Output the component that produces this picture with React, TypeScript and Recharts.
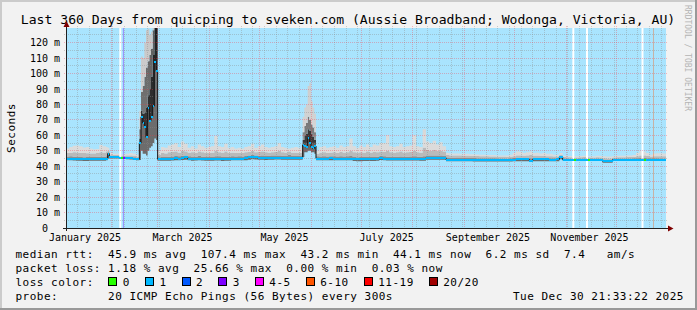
import React from "react";
import {
  ComposedChart,
  Area,
  Line,
  Scatter,
  XAxis,
  YAxis,
  CartesianGrid,
  ReferenceLine,
  ReferenceArea,
} from "recharts";

// ---------------- data (days since Jan 4 2025 21:33, values in ms) ----------------
const days = [
  0, 2, 4, 6, 8, 10, 12, 14, 16, 18, 20, 22, 24, 25, 26, 28, 30, 32, 34, 36, 38, 40, 42,
  44, 45, 46, 47, 48, 49, 50, 51, 52, 53, 54,
  55, 57, 59, 61, 63, 65, 67, 69, 71, 73,
  75, 77, 79, 81, 83, 85, 87, 89, 91, 93,
  95, 97, 99, 101, 103, 105, 107, 109, 111, 113,
  115, 117, 119, 121, 123, 125, 127, 129, 131, 133,
  135, 137, 139, 141,
  142, 143, 144, 145, 146, 147, 148, 149,
  150, 152, 154, 156, 158, 160, 162, 164, 166, 168,
  170, 172, 174, 176, 178, 180, 182, 184, 186, 188,
  190, 192, 194, 196, 198, 200, 202, 204, 206, 208,
  210, 212, 214, 216, 218, 220, 222, 224, 226, 228,
  230, 232, 234, 236, 238, 240, 242, 244, 246, 248,
  250, 252, 254, 256, 258, 260, 262, 264, 266, 268,
  270, 272, 274, 276, 278, 280, 282, 284, 286, 288,
  290, 292, 294, 296, 298, 300, 302, 304, 306, 308,
  310, 312, 314, 316, 318, 320, 322, 324, 326, 328,
  330, 332, 334, 336, 338, 340, 342, 344, 346, 348,
  350, 352, 354, 356, 358, 360,
];

const smokeLow = [
  43.8, 43.8, 43.7, 43.5, 43.5, 43.4, 43.4, 43.5, 43.5, 43.6, 43.6, 43.6, 43.8, 45.0, 45.0, 45.0, 45.0, 44.8, 44.6, 44.5, 44.3, 44.2, 43.8,
  44.0, 50.0, 48.0, 48.0, 47.0, 50.0, 52.0, 53.0, 55.0, 58.0, 57.0,
  43.5, 43.6, 43.5, 43.6, 43.7, 43.9, 43.8, 44.0, 44.2, 43.9,
  43.6, 43.7, 43.8, 43.7, 43.5, 43.5, 43.5, 43.7, 43.7, 43.4,
  43.5, 43.6, 43.8, 43.8, 43.8, 43.8, 43.9, 44.2, 44.5, 44.3,
  44.2, 44.2, 44.1, 44.2, 44.2, 44.3, 44.3, 44.2, 44.2, 44.2,
  44.2, 44.2, 44.2, 44.2,
  46.0, 49.0, 49.0, 50.0, 50.0, 49.0, 49.0, 48.0,
  43.8, 43.8, 43.8, 43.8, 43.9, 43.8, 43.8, 43.8, 43.8, 43.8,
  43.8, 43.4, 43.3, 43.3, 43.4, 43.4, 43.4, 43.4, 43.5, 44.0,
  43.8, 43.7, 43.7, 43.7, 43.7, 43.7, 43.7, 43.7, 43.7, 43.7,
  43.7, 43.6, 43.6, 44.2, 44.2, 44.2, 44.2, 44.2, 44.2, 43.3,
  43.2, 43.2, 43.2, 43.2, 43.2, 43.2, 43.2, 43.1, 43.1, 43.1,
  43.1, 43.1, 43.1, 43.1, 43.1, 43.0, 43.0, 43.0, 43.0, 43.2,
  43.3, 43.3, 43.3, 43.3, 42.8, 43.3, 43.3, 43.3, 43.3, 43.3,
  43.3, 43.3, 43.3, 44.5, 43.5, 43.5, 43.5, 43.5, 43.5, 43.5,
  43.5, 43.5, 43.5, 43.5, 43.5, 43.5, 42.2, 42.2, 42.2, 43.5,
  43.5, 43.5, 43.5, 43.5, 43.5, 43.5, 43.5, 43.5, 43.5, 43.5,
  43.5, 43.5, 43.5, 43.4, 43.4, 43.4,
];

const median = [
  45.0, 45.0, 44.8, 44.6, 44.5, 44.4, 44.4, 44.5, 44.5, 44.6, 44.6, 44.7, 45.0, 48.2, 46.0, 45.8, 45.8, 45.5, 45.5, 45.3, 45.2, 45.0, 44.6,
  55.0, 72.0, 68.0, 65.6, 58.7, 78.0, 69.5, 72.0, 79.0, 107.4, 101.9,
  44.5, 44.6, 44.5, 44.6, 44.8, 45.2, 45.0, 45.3, 46.0, 45.0,
  44.6, 44.8, 45.0, 44.8, 44.6, 44.5, 44.6, 45.0, 45.0, 44.5,
  44.6, 44.8, 45.0, 45.0, 45.0, 45.0, 45.2, 45.8, 46.2, 45.8,
  45.5, 45.5, 45.4, 45.5, 45.6, 45.6, 45.6, 45.5, 45.5, 45.4,
  45.4, 45.4, 45.4, 45.4,
  53.8, 53.1, 52.3, 58.1, 55.3, 52.3, 51.5, 53.1,
  45.0, 45.0, 45.0, 45.0, 45.1, 45.0, 45.0, 45.0, 45.0, 45.0,
  45.0, 44.5, 44.4, 44.4, 44.5, 44.5, 44.5, 44.5, 44.6, 45.5,
  45.0, 44.8, 44.8, 44.8, 44.8, 44.8, 44.8, 44.8, 44.8, 44.8,
  44.8, 44.7, 44.7, 45.5, 45.5, 45.5, 45.5, 45.5, 45.5, 44.3,
  44.2, 44.2, 44.2, 44.2, 44.2, 44.2, 44.2, 44.1, 44.1, 44.1,
  44.1, 44.1, 44.1, 44.1, 44.1, 44.0, 44.0, 44.0, 44.3, 44.3,
  44.4, 44.4, 44.4, 44.4, 43.6, 44.4, 44.4, 44.4, 44.4, 44.4,
  44.3, 44.3, 44.4, 46.0, 44.3, 44.2, 44.2, 44.2, 44.2, 44.2,
  44.2, 44.2, 44.2, 44.2, 44.2, 44.2, 43.2, 43.2, 43.2, 44.3,
  44.3, 44.3, 44.3, 44.3, 44.3, 44.3, 44.3, 44.3, 44.3, 44.3,
  44.2, 44.2, 44.2, 44.1, 44.1, 44.1,
];

const smokeDark = [
  46.3, 46.4, 46.2, 46.0, 46.0, 45.8, 45.9, 46.0, 45.9, 46.1, 46.2, 46.2, 46.5, 49.0, 46.8, 46.6, 46.6, 46.3, 46.2, 46.1, 46.0, 45.8, 45.4,
  58.0, 76.0, 74.0, 75.0, 78.0, 86.0, 90.0, 98.0, 112.0, 140.0, 140.0,
  45.8, 46.0, 45.9, 46.1, 46.3, 46.6, 46.4, 46.8, 47.0, 46.4,
  46.0, 46.2, 46.8, 46.2, 46.0, 45.9, 46.0, 46.5, 46.4, 45.9,
  46.0, 46.2, 46.4, 46.3, 46.4, 46.3, 46.6, 47.0, 47.4, 47.0,
  46.8, 46.9, 46.7, 46.8, 46.9, 47.0, 47.0, 46.8, 46.8, 47.5,
  46.7, 46.7, 46.7, 46.8,
  57.0, 60.0, 61.0, 64.0, 63.0, 61.0, 59.0, 57.0,
  46.4, 46.3, 46.4, 46.3, 46.4, 46.4, 46.3, 46.5, 46.3, 46.4,
  46.6, 46.0, 45.8, 45.9, 45.9, 46.0, 45.9, 46.0, 46.1, 46.8,
  46.4, 46.2, 46.2, 46.1, 46.2, 46.3, 46.1, 46.2, 46.3, 46.4,
  46.2, 46.1, 46.5, 47.0, 46.9, 47.0, 46.9, 47.0, 46.8, 45.6,
  45.5, 45.5, 45.4, 45.4, 45.4, 45.4, 45.3, 45.3, 45.2, 45.2,
  45.2, 45.1, 45.1, 45.1, 45.0, 45.0, 45.0, 44.9, 45.2, 45.3,
  45.5, 45.5, 45.4, 45.5, 45.2, 45.4, 45.4, 45.3, 45.3, 45.3,
  45.2, 45.2, 45.3, 46.8, 45.0, 44.9, 44.9, 44.9, 44.9, 44.9,
  45.0, 44.9, 44.9, 44.9, 45.0, 44.9, 44.0, 44.0, 44.0, 45.0,
  45.0, 45.0, 45.0, 45.0, 45.0, 45.1, 45.2, 45.3, 45.3, 45.2,
  45.1, 45.1, 45.1, 45.0, 45.0, 45.0,
];

const smokeMid = [
  48.5, 48.6, 49.0, 48.8, 48.5, 48.6, 48.4, 48.2, 48.3, 48.5, 49.0, 48.8, 49.5, 50.0, 47.5, 47.2, 47.3, 46.8, 46.8, 47.0, 47.0, 46.8, 46.2,
  64.0, 88.0, 92.0, 98.0, 104.0, 108.0, 112.0, 116.0, 128.0, 140.0, 140.0,
  47.5, 48.5, 48.2, 49.0, 49.2, 49.5, 48.8, 50.0, 49.5, 48.8,
  49.0, 48.5, 49.5, 49.0, 48.6, 48.5, 48.8, 50.0, 49.0, 48.8,
  49.5, 48.6, 48.8, 48.5, 48.6, 48.5, 49.0, 49.2, 49.8, 49.0,
  49.2, 49.5, 49.0, 48.8, 49.0, 49.2, 50.0, 49.0, 48.8, 49.5,
  48.8, 48.8, 48.6, 48.8,
  62.0, 66.0, 68.0, 72.0, 70.0, 67.0, 65.0, 62.0,
  48.0, 48.8, 49.0, 48.6, 48.8, 49.0, 48.6, 49.2, 48.8, 49.0,
  50.0, 49.0, 48.8, 49.0, 48.8, 49.5, 48.8, 49.2, 49.0, 49.5,
  49.2, 50.0, 49.0, 48.8, 49.0, 49.5, 48.8, 49.0, 49.2, 50.0,
  49.0, 48.8, 52.0, 50.5, 50.0, 50.5, 49.8, 50.0, 49.5, 47.2,
  47.0, 47.0, 47.0, 46.9, 46.8, 46.8, 46.7, 46.7, 46.6, 46.5,
  46.5, 46.4, 46.3, 46.3, 46.2, 46.2, 46.1, 46.0, 46.2, 46.5,
  47.0, 47.0, 46.8, 47.0, 47.2, 46.8, 46.8, 46.6, 46.6, 46.5,
  46.5, 46.3, 46.3, 47.3, 46.0, 45.8, 45.8, 45.7, 45.7, 45.8,
  45.9, 45.8, 45.7, 45.7, 45.8, 45.7, 45.2, 45.0, 45.0, 45.7,
  45.8, 45.8, 45.8, 45.9, 45.9, 46.0, 46.5, 47.0, 47.0, 46.6,
  46.2, 46.5, 46.5, 46.5, 46.5, 46.5,
];

const smokeTop = [
  51.5, 52.5, 53.3, 53.5, 53.0, 52.2, 52.5, 51.5, 51.0, 51.2, 53.7, 53.0, 52.5, 52.0, 48.5, 48.0, 48.2, 47.5, 47.8, 48.0, 48.5, 48.0, 47.5,
  76.0, 111.0, 110.0, 120.0, 128.0, 129.0, 125.0, 127.0, 140.0, 140.0, 140.0,
  50.0, 52.5, 52.0, 53.5, 54.0, 55.0, 52.5, 56.0, 54.5, 52.0,
  53.0, 51.5, 54.0, 53.0, 52.0, 52.5, 53.0, 59.5, 53.0, 52.5,
  54.5, 52.0, 52.5, 51.5, 52.0, 51.5, 52.5, 53.0, 54.5, 52.0,
  53.0, 54.0, 52.5, 52.0, 52.5, 53.0, 55.0, 52.5, 52.0, 51.5,
  52.0, 52.5, 52.0, 52.5,
  72.0, 78.0, 80.0, 92.0, 94.0, 82.0, 78.0, 74.0,
  50.0, 52.5, 53.0, 52.0, 52.5, 53.0, 52.0, 53.5, 52.5, 53.0,
  58.0, 53.0, 52.0, 53.5, 52.5, 54.0, 52.5, 54.0, 53.5, 55.0,
  55.0, 60.0, 53.0, 52.5, 53.0, 54.5, 52.5, 53.0, 53.5, 60.0,
  53.0, 52.5, 64.0, 56.0, 55.0, 56.5, 54.0, 55.5, 53.0, 48.5,
  48.3, 48.2, 48.2, 48.0, 48.0, 48.0, 47.8, 47.8, 47.6, 47.5,
  47.5, 47.3, 47.2, 47.2, 47.0, 47.0, 47.0, 46.9, 47.5, 48.5,
  49.5, 49.3, 48.5, 49.0, 49.5, 48.5, 48.8, 48.2, 48.5, 48.0,
  48.0, 47.5, 47.5, 48.5, 46.8, 46.6, 46.6, 46.5, 46.5, 46.6,
  46.8, 46.6, 46.5, 46.5, 46.8, 46.6, 46.5, 46.3, 46.3, 46.6,
  46.8, 46.8, 46.8, 47.0, 47.0, 47.3, 48.5, 49.8, 49.5, 48.5,
  47.5, 48.2, 48.4, 48.4, 48.3, 48.3,
];

// unknown-data gaps (white), loss-colour marks and vertical loss lines
const gapStartDays = [32.0, 303.8, 312.0, 345.3];
const gapEndDays = [33.2, 305.0, 313.2, 346.5];
const lossMarkDays = [33.2, 34.0, 305.0, 313.2, 346.5];
const lossMarkValues = [45.5, 45.5, 44.2, 44.2, 44.3];
const lossMarkColors = ["#26ff00", "#7e00ff", "#26ff00", "#26ff00", "#26ff00"];
const lossLineDays = [34.4, 352.4];
const lossLineColors = ["#7e00ff", "#ff5500"];

// axes
const xLabelDays = [11.4, 69.9, 131.1, 192.4, 253.2, 314.1];
const xLabels = ["January 2025", "March 2025", "May 2025", "July 2025", "September 2025", "November 2025"];
const monthStartDays = [27.1, 55.1, 86.1, 116.1, 147.1, 177.1, 208.1, 239.1, 269.1, 300.1, 330.1];
const weekStartDays = Array.from({ length: 52 }, (_, k) => 0.1 + 7 * k).filter(
  (d) => !monthStartDays.some((m) => Math.abs(m - d) < 0.5)
);
const yLabelValues = [0, 10, 20, 30, 40, 50, 60, 70, 80, 90, 100, 110, 120];
const yMinorValues = [5, 15, 25, 35, 45, 55, 65, 75, 85, 95, 105, 115, 125];

// legend
const lossLabels = ["0", "1", "2", "3", "4-5", "6-10", "11-19", "20/20"];
const lossColors = ["#26ff00", "#00b8ff", "#0059ff", "#7e00ff", "#ff00ff", "#ff5500", "#ff0000", "#a00000"];

// ---------------- layout / style ----------------
const W = 697;
const H = 310;
const PLOT_LEFT = 66;
const PLOT_RIGHT = 666;
const PLOT_TOP = 28;
const PLOT_BOTTOM = 228;
const X_MAX = 360;
const Y_MAX = 129.5;
const PX_PER_DAY = (PLOT_RIGHT - PLOT_LEFT) / X_MAX;
const MONO = "'DejaVu Sans Mono', monospace";
const PLOT_BG = "#a9e4fe";
const MEDIAN_COLOR = "#00b8ff";
const LEG_FS = 11;
const LEG_LS = 0.5;
const LEG_ADV = LEG_FS * 0.602 + LEG_LS;
// gradient offset for a value on the y scale (style only: smoke gets darker high up)
const off = (v: number) => 1 - v / Y_MAX;

const rows = days.map((day, i) => ({
  day,
  lo: smokeLow[i],
  med: median[i],
  dk: smokeDark[i],
  mid: smokeMid[i],
  top: smokeTop[i],
  span: i < days.length - 1 ? days[i + 1] - day : 0,
}));

const lossMarks = lossMarkDays.map((day, i) => ({
  day,
  med: lossMarkValues[i],
  color: lossMarkColors[i],
  span: 1.2,
}));

const gridShape = (props: any) => {
  const { x1, y1, x2, y2, stroke, strokeOpacity } = props;
  if ([x1, y1, x2, y2].some((v) => v == null || isNaN(v))) return null;
  const vertical = Math.abs(x1 - x2) < 0.01;
  if (vertical) {
    const x = Math.floor(x1) + 0.5;
    return (
      <line x1={x} x2={x} y1={Math.min(y1, y2) - 2} y2={Math.max(y1, y2) + 2} stroke={stroke}
        strokeOpacity={strokeOpacity} strokeDasharray="1 1" shapeRendering="crispEdges" />
    );
  }
  const y = Math.floor(y1) + 0.5;
  return (
    <line x1={Math.min(x1, x2) - 2} x2={Math.max(x1, x2) + 2} y1={y} y2={y} stroke={stroke}
      strokeOpacity={strokeOpacity} strokeDasharray="1 1" shapeRendering="crispEdges" />
  );
};

const lossLineShape = (props: any) => {
  const { x1, y1, x2, y2, stroke, strokeOpacity } = props;
  if ([x1, y1, x2, y2].some((v) => v == null || isNaN(v))) return null;
  const x = Math.floor(x1) + 0.5;
  return <line x1={x} x2={x} y1={y1} y2={y2} stroke={stroke} strokeOpacity={strokeOpacity} shapeRendering="crispEdges" />;
};

const MedianDash = (props: any) => {
  const { cx, cy, payload } = props;
  if (cx == null || cy == null || !payload) return <g />;
  const w = payload.span * PX_PER_DAY;
  if (w <= 0) return <g />;
  return (
    <rect x={cx} y={cy - 1} width={Math.max(w, 1)} height={2}
      fill={payload.color || MEDIAN_COLOR} shapeRendering="crispEdges" />
  );
};

const XTick = (props: any) => {
  const { x, payload } = props;
  const idx = xLabelDays.indexOf(payload.value);
  return (
    <text x={x} y={PLOT_BOTTOM + 13} textAnchor="middle" fontFamily={MONO} fontSize={10} fill="#000">
      {xLabels[idx]}
    </text>
  );
};

const YTick = (props: any) => {
  const { y, payload } = props;
  const v = payload.value;
  const label = v === 0 ? "0" : `${v} m`;
  const end = PLOT_LEFT - 6 - (v === 0 ? 12 : 0);
  return (
    <text x={end} y={y + 3.6} textAnchor="end" fontFamily={MONO} fontSize={10} fill="#000">
      {label}
    </text>
  );
};

const legendText = (x: number, y: number, s: string, key?: string) => (
  <text key={key} x={x} y={y} fontFamily={MONO} fontSize={LEG_FS} letterSpacing={LEG_LS}
    fill="#000" xmlSpace="preserve" style={{ whiteSpace: "pre" }}>
    {s}
  </text>
);

export default function App() {
  const boxes: { x: number; color: string; label: string }[] = [];
  let bx = 108.3;
  lossLabels.forEach((label, i) => {
    boxes.push({ x: bx, color: lossColors[i], label });
    bx = bx + 14.5 + label.length * LEG_ADV + 15;
  });

  return (
    <div style={{ position: "absolute", left: 0, top: 0, width: W, height: H, background: "#f2f2f2", overflow: "hidden" }}>
      <svg width={0} height={0} style={{ position: "absolute" }}>
        <defs>
          <linearGradient id="smokeDarkFill" gradientUnits="userSpaceOnUse" x1={0} x2={0} y1={PLOT_TOP} y2={PLOT_BOTTOM}>
            <stop offset={0} stopColor="#1e1e1e" />
            <stop offset={off(56)} stopColor="#3a3a3a" />
            <stop offset={off(51.5)} stopColor="#8e8e8e" />
            <stop offset={1} stopColor="#8e8e8e" />
          </linearGradient>
          <linearGradient id="smokeMidFill" gradientUnits="userSpaceOnUse" x1={0} x2={0} y1={PLOT_TOP} y2={PLOT_BOTTOM}>
            <stop offset={0} stopColor="#5a5a5a" />
            <stop offset={off(62)} stopColor="#7c7c7c" />
            <stop offset={off(54)} stopColor="#bababa" />
            <stop offset={1} stopColor="#bababa" />
          </linearGradient>
          <linearGradient id="smokeTopFill" gradientUnits="userSpaceOnUse" x1={0} x2={0} y1={PLOT_TOP} y2={PLOT_BOTTOM}>
            <stop offset={0} stopColor="#c6c6c6" />
            <stop offset={off(70)} stopColor="#d2d2d2" />
            <stop offset={off(58)} stopColor="#dbdbdb" />
            <stop offset={1} stopColor="#dbdbdb" />
          </linearGradient>
        </defs>
      </svg>

      <div style={{ position: "absolute", left: 0, top: 0 }}>
        <ComposedChart width={W} height={H} data={rows}
          margin={{ top: PLOT_TOP, right: W - PLOT_RIGHT, bottom: 62, left: 8 }}>
          <CartesianGrid horizontal={false} vertical={false} fill={PLOT_BG} fillOpacity={1} stroke="none" />
          <XAxis dataKey="day" type="number" domain={[0, X_MAX]} ticks={xLabelDays} interval={0} height={20}
            axisLine={false} tickLine={false} tick={(p: any) => <XTick {...p} />} allowDataOverflow />
          <YAxis type="number" domain={[0, Y_MAX]} ticks={yLabelValues} interval={0} width={58}
            axisLine={false} tickLine={false} tick={(p: any) => <YTick {...p} />} allowDataOverflow />

          <Area type="stepAfter" dataKey={(r: any) => [r.lo, r.med]} stroke="none" fill="#6c6c6c" fillOpacity={1}
            isAnimationActive={false} dot={false} activeDot={false} />
          <Area type="stepAfter" dataKey={(r: any) => [r.med, r.dk]} stroke="none" fill="url(#smokeDarkFill)" fillOpacity={1}
            isAnimationActive={false} dot={false} activeDot={false} />
          <Area type="stepAfter" dataKey={(r: any) => [r.dk, r.mid]} stroke="none" fill="url(#smokeMidFill)" fillOpacity={1}
            isAnimationActive={false} dot={false} activeDot={false} />
          <Area type="stepAfter" dataKey={(r: any) => [r.mid, r.top]} stroke="none" fill="url(#smokeTopFill)" fillOpacity={1}
            isAnimationActive={false} dot={false} activeDot={false} />

          {yMinorValues.map((v) => (
            <ReferenceLine key={`ym${v}`} y={v} stroke="#8c8c8c" strokeOpacity={0.4} shape={gridShape} />
          ))}
          {weekStartDays.map((d) => (
            <ReferenceLine key={`xm${d}`} x={d} stroke="#8c8c8c" strokeOpacity={0.4} shape={gridShape} />
          ))}
          {yLabelValues.filter((v) => v > 0).map((v) => (
            <ReferenceLine key={`yM${v}`} y={v} stroke="#ff3040" strokeOpacity={0.33} shape={gridShape} />
          ))}
          {monthStartDays.map((d) => (
            <ReferenceLine key={`xM${d}`} x={d} stroke="#ff3040" strokeOpacity={0.33} shape={gridShape} />
          ))}

          {gapStartDays.map((d, i) => (
            <ReferenceArea key={`gap${i}`} x1={d} x2={gapEndDays[i]} y1={0} y2={Y_MAX} fill="#ffffff"
              fillOpacity={1} stroke="none" />
          ))}
          {lossLineDays.map((d, i) => (
            <ReferenceLine key={`ll${i}`} x={d} stroke={lossLineColors[i]} strokeOpacity={0.35} shape={lossLineShape} />
          ))}

          <Line type="stepAfter" dataKey="med" stroke="#111111" strokeWidth={1} dot={false} activeDot={false}
            isAnimationActive={false} />
          <Scatter data={rows} dataKey="med" shape={(p: any) => <MedianDash {...p} />} isAnimationActive={false} />
          <Scatter data={lossMarks} dataKey="med" shape={(p: any) => <MedianDash {...p} />} isAnimationActive={false} />
        </ComposedChart>
      </div>

      <svg width={W} height={H} style={{ position: "absolute", left: 0, top: 0, pointerEvents: "none" }}>
        {/* frame */}
        <rect x={0} y={0} width={W} height={2} fill="#cbcbcb" />
        <rect x={0} y={0} width={2} height={H} fill="#cbcbcb" />
        <rect x={0} y={H - 2} width={W} height={2} fill="#999999" />
        <rect x={W - 2} y={0} width={2} height={H} fill="#999999" />

        {/* title */}
        <text x={348} y={24} textAnchor="middle" fontFamily={MONO} fontSize={13.1} fill="#000">
          Last 360 Days from quicping to sveken.com (Aussie Broadband; Wodonga, Victoria, AU)
        </text>

        {/* vertical label */}
        <text x={15} y={128} transform="rotate(-90 15 128)" textAnchor="middle" fontFamily={MONO}
          fontSize={LEG_FS} letterSpacing={LEG_LS} fill="#000">
          Seconds
        </text>

        {/* watermark */}
        <text x={685} y={5} transform="rotate(90 685 5)" fontFamily={MONO} fontSize={8} fill="#b4b4b4">
          RRDTOOL / TOBI OETIKER
        </text>

        {/* axes */}
        <line x1={PLOT_LEFT + 0.5} x2={PLOT_LEFT + 0.5} y1={PLOT_BOTTOM + 3} y2={PLOT_TOP - 1} stroke="#202020" />
        <line x1={PLOT_LEFT - 3} x2={PLOT_RIGHT + 2} y1={PLOT_BOTTOM + 0.5} y2={PLOT_BOTTOM + 0.5} stroke="#202020" />
        <polygon points={`${PLOT_LEFT + 0.5},${PLOT_TOP - 7} ${PLOT_LEFT - 2.5},${PLOT_TOP - 1} ${PLOT_LEFT + 3.5},${PLOT_TOP - 1}`} fill="#7f0000" />
        <polygon points={`${PLOT_RIGHT + 7.5},${PLOT_BOTTOM + 0.5} ${PLOT_RIGHT + 2},${PLOT_BOTTOM - 2.5} ${PLOT_RIGHT + 2},${PLOT_BOTTOM + 3.5}`} fill="#7f0000" />

        {/* legend */}
        {legendText(15.5, 258, "median rtt:  45.9 ms avg  107.4 ms max  43.2 ms min  44.1 ms now  6.2 ms sd  7.4   am/s")}
        {legendText(15.5, 272, "packet loss: 1.18 % avg  25.66 % max  0.00 % min  0.03 % now")}
        {legendText(15.5, 286, "loss color:")}
        {boxes.map((b, i) => (
          <g key={`box${i}`}>
            <rect x={Math.round(b.x) + 0.5} y={277.5} width={8} height={8} fill={b.color} stroke="#000" strokeWidth={1} />
            {legendText(b.x + 14.5, 286, b.label)}
          </g>
        ))}
        {legendText(15.5, 300, "probe:       20 ICMP Echo Pings (56 Bytes) every 300s")}
        {legendText(513, 300, "Tue Dec 30 21:33:22 2025")}
      </svg>
    </div>
  );
}
